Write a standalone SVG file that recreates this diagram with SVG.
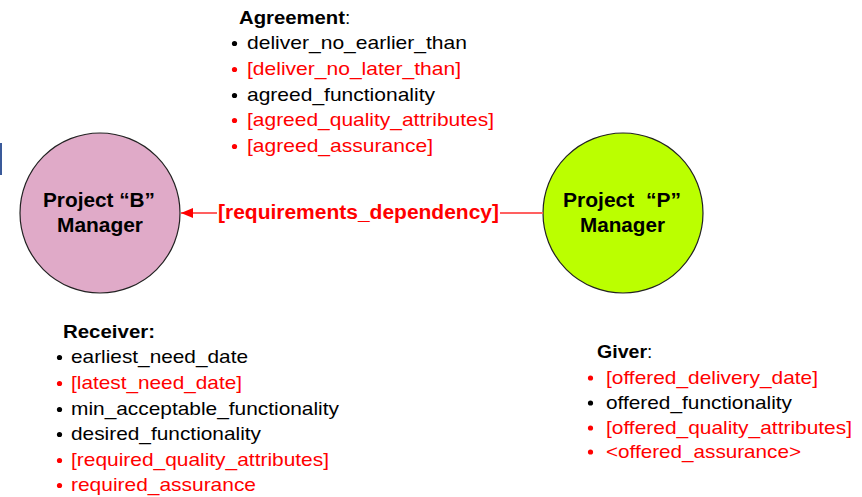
<svg xmlns="http://www.w3.org/2000/svg" width="862" height="497" viewBox="0 0 862 497">
<style>
text{font-family:"Liberation Sans",Arial,sans-serif;}
.hd{font-size:19px;font-weight:bold;fill:#000;}
.co{font-size:19px;fill:#000;}
.it{font-size:19px;}
.k{fill:#000;}
.r{fill:#ff0000;}
.node{stroke:#222;stroke-width:1.2;}
.nl{font-size:20px;font-weight:bold;fill:#000;}
</style>
<defs>
<marker id="ah" markerWidth="14" markerHeight="12" refX="13" refY="6" orient="auto" markerUnits="userSpaceOnUse">
<path d="M1,1 L13,6 L1,11 Z" fill="#ff0000"/>
</marker>
</defs>
<rect x="0" y="143" width="2" height="32" fill="#3a5a9a"/>
<g id="nodeB">
<circle class="node" cx="100" cy="213" r="80" fill="#e0aac8"/>
<text class="nl" x="43" y="207" textLength="112" lengthAdjust="spacingAndGlyphs">Project “B”</text>
<text class="nl" x="57" y="232" textLength="86" lengthAdjust="spacingAndGlyphs">Manager</text>
</g>
<g id="nodeP">
<circle class="node" cx="623" cy="213" r="80" fill="#bbff00"/>
<text class="nl" x="563" y="207" textLength="118" lengthAdjust="spacingAndGlyphs" xml:space="preserve">Project  “P”</text>
<text class="nl" x="580" y="232" textLength="85" lengthAdjust="spacingAndGlyphs">Manager</text>
</g>
<g id="connectors">
<line x1="543" y1="213" x2="500" y2="213" stroke="#ff6060" stroke-width="2"/>
<line x1="217" y1="213" x2="181" y2="213" stroke="#ff6060" stroke-width="2" marker-end="url(#ah)"/>
<text x="218" y="219" font-size="20" font-weight="bold" fill="#ff0000" textLength="281" lengthAdjust="spacingAndGlyphs">[requirements_dependency]</text>
</g>
<g id="agreement">
<text class="hd" x="239" y="24" textLength="106" lengthAdjust="spacingAndGlyphs">Agreement</text>
<text class="co" x="345" y="24">:</text>
<circle class="k" cx="234.5" cy="43.5" r="2.6"/>
<text class="it k" x="247" y="49" textLength="220" lengthAdjust="spacingAndGlyphs">deliver_no_earlier_than</text>
<circle class="r" cx="234.5" cy="69.5" r="2.6"/>
<text class="it r" x="247" y="75" textLength="214" lengthAdjust="spacingAndGlyphs">[deliver_no_later_than]</text>
<circle class="k" cx="234.5" cy="95.5" r="2.6"/>
<text class="it k" x="247" y="101" textLength="188" lengthAdjust="spacingAndGlyphs">agreed_functionality</text>
<circle class="r" cx="234.5" cy="120.5" r="2.6"/>
<text class="it r" x="247" y="126" textLength="247" lengthAdjust="spacingAndGlyphs">[agreed_quality_attributes]</text>
<circle class="r" cx="234.5" cy="146.5" r="2.6"/>
<text class="it r" x="247" y="152" textLength="186" lengthAdjust="spacingAndGlyphs">[agreed_assurance]</text>
</g>
<g id="receiver">
<text class="hd" x="63" y="338" textLength="92" lengthAdjust="spacingAndGlyphs">Receiver:</text>
<circle class="k" cx="59.5" cy="357.5" r="2.6"/>
<text class="it k" x="71" y="363" textLength="177" lengthAdjust="spacingAndGlyphs">earliest_need_date</text>
<circle class="r" cx="59.5" cy="383.5" r="2.6"/>
<text class="it r" x="71" y="389" textLength="171" lengthAdjust="spacingAndGlyphs">[latest_need_date]</text>
<circle class="k" cx="59.5" cy="409.5" r="2.6"/>
<text class="it k" x="71" y="415" textLength="268" lengthAdjust="spacingAndGlyphs">min_acceptable_functionality</text>
<circle class="k" cx="59.5" cy="434.5" r="2.6"/>
<text class="it k" x="71" y="440" textLength="190" lengthAdjust="spacingAndGlyphs">desired_functionality</text>
<circle class="r" cx="59.5" cy="460.5" r="2.6"/>
<text class="it r" x="71" y="466" textLength="258" lengthAdjust="spacingAndGlyphs">[required_quality_attributes]</text>
<circle class="r" cx="59.5" cy="485.5" r="2.6"/>
<text class="it r" x="71" y="491" textLength="185" lengthAdjust="spacingAndGlyphs">required_assurance</text>
</g>
<g id="giver">
<text class="hd" x="597" y="358" textLength="50" lengthAdjust="spacingAndGlyphs">Giver</text>
<text class="co" x="647" y="358">:</text>
<circle class="r" cx="590.5" cy="378" r="2.6"/>
<text class="it r" x="606" y="384" textLength="212" lengthAdjust="spacingAndGlyphs">[offered_delivery_date]</text>
<circle class="k" cx="590.5" cy="403" r="2.6"/>
<text class="it k" x="606" y="409" textLength="186" lengthAdjust="spacingAndGlyphs">offered_functionality</text>
<circle class="r" cx="590.5" cy="428" r="2.6"/>
<text class="it r" x="606" y="434" textLength="246" lengthAdjust="spacingAndGlyphs">[offered_quality_attributes]</text>
<circle class="r" cx="590.5" cy="452" r="2.6"/>
<text class="it r" x="606" y="458" textLength="195" lengthAdjust="spacingAndGlyphs">&lt;offered_assurance&gt;</text>
</g>
</svg>
